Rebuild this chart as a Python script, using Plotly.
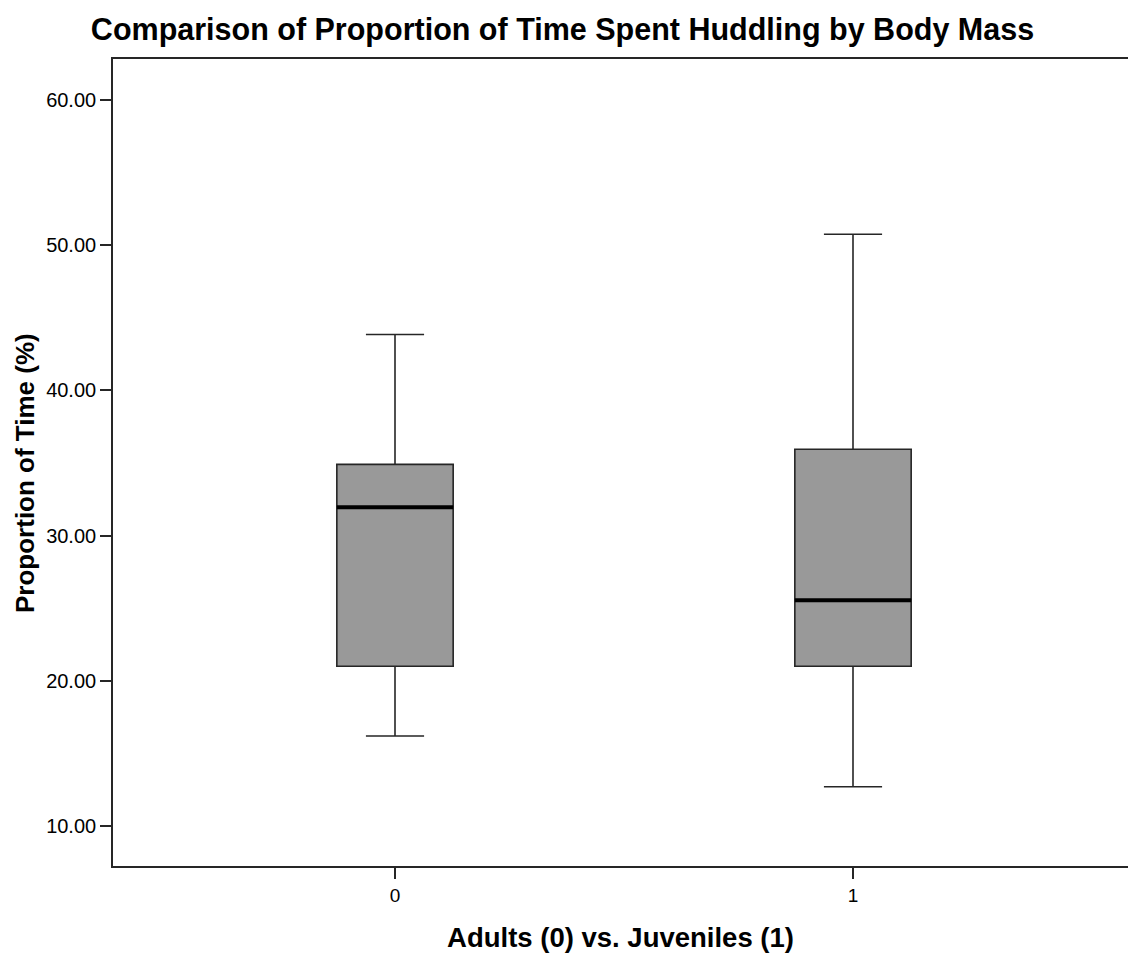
import plotly.graph_objects as go

# Data
groups = [0, 1]
lower_whisker = [16.2, 12.7]
q1_vals = [21.0, 21.0]
median_vals = [31.95, 25.55]
q3_vals = [34.9, 35.95]
upper_whisker = [43.85, 50.75]

y_ticks = [10, 20, 30, 40, 50, 60]

BOX_W = 0.254
FONT = "Liberation Sans, Arial, sans-serif"

fig = go.Figure()

fig.add_trace(go.Box(
    x=groups,
    q1=q1_vals,
    median=median_vals,
    q3=q3_vals,
    lowerfence=lower_whisker,
    upperfence=upper_whisker,
    width=BOX_W,
    whiskerwidth=0.5,
    fillcolor="#999999",
    line=dict(color="#262626", width=1.6),
    boxpoints=False,
    hoverinfo="skip",
    showlegend=False,
))

# thicker median lines
for g, m in zip(groups, median_vals):
    fig.add_trace(go.Scatter(
        x=[g - BOX_W / 2, g + BOX_W / 2],
        y=[m, m],
        mode="lines",
        line=dict(color="black", width=4),
        showlegend=False,
        hoverinfo="skip",
    ))

fig.update_layout(
    width=1128,
    height=953,
    margin=dict(l=113, r=0, t=59, b=87),
    paper_bgcolor="white",
    plot_bgcolor="white",
    font=dict(family=FONT, color="black"),
    title=dict(
        text="<b>Comparison of Proportion of Time Spent Huddling by Body Mass</b>",
        x=562.5 / 1128, xref="container", xanchor="center",
        y=1 - 29 / 953, yref="container", yanchor="middle",
        font=dict(size=30.5, family=FONT, color="black"),
    ),
    xaxis=dict(
        range=[-282 / 458, 1 + (1128 - 853) / 458],
        tickvals=groups,
        ticktext=[str(g) for g in groups],
        showgrid=False,
        zeroline=False,
        showline=True,
        linecolor="#262626",
        linewidth=1.6,
        mirror=True,
        ticks="outside",
        ticklen=11,
        tickwidth=1.6,
        tickcolor="#262626",
        tickfont=dict(size=19, family=FONT, color="black"),
        title=dict(text="<b>Adults (0) vs. Juveniles (1)</b>",
                   font=dict(size=27.5, family=FONT, color="black"),
                   standoff=24),
    ),
    yaxis=dict(
        range=[7.245, 62.82],
        tickvals=y_ticks,
        tickformat=".2f",
        showgrid=False,
        zeroline=False,
        showline=True,
        linecolor="#262626",
        linewidth=1.6,
        ticks="outside",
        ticklen=11,
        tickwidth=1.6,
        tickcolor="#262626",
        tickfont=dict(size=20, family=FONT, color="black"),
    ),
    annotations=[dict(
        text="<b>Proportion of Time (%)</b>",
        textangle=-90,
        xref="paper", yref="paper",
        x=(25 - 113) / (1128 - 113), y=(866 - 473) / (866 - 59),
        xanchor="center", yanchor="middle",
        showarrow=False,
        font=dict(size=26, family=FONT, color="black"),
    )],
)

fig.write_html("out.html")
